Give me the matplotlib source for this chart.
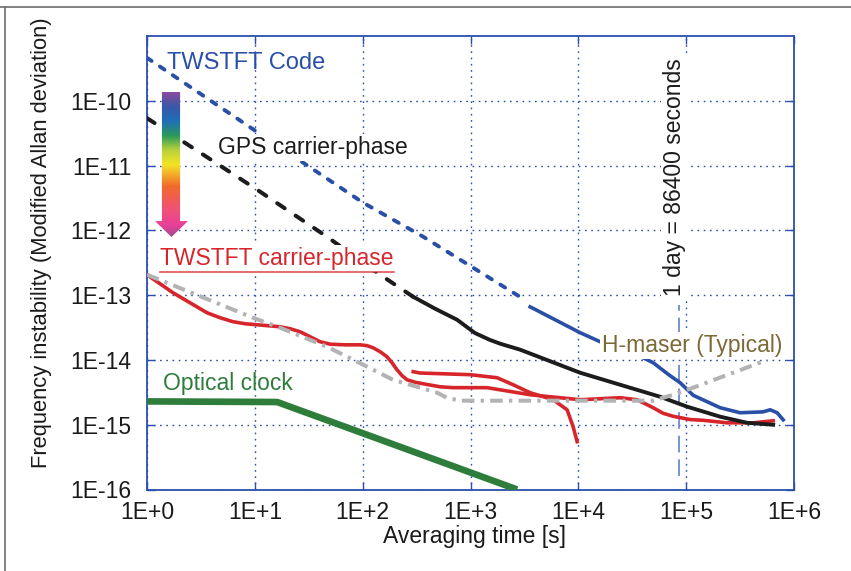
import matplotlib
matplotlib.use('Agg')
import matplotlib.pyplot as plt
import numpy as np
from matplotlib.lines import Line2D
from matplotlib.patches import Polygon
from matplotlib.colors import LinearSegmentedColormap

plt.rcParams['font.family'] = ['Liberation Sans', 'DejaVu Sans']
plt.rcParams['lines.scale_dashes'] = False

# TWSTFT Code: extrapolated (dashed) and measured (solid)
code_tau_ext = [1, 10.5, 101, 363, 2884]
code_dev_ext = [4.6e-10, 3.3e-11, 2.67e-12, 8.0e-13, 9.4e-14]
code_tau = [3573, 10400, 15930, 39900, 49400, 70000, 87900, 116000, 206500,
            316600, 517600, 601000, 698000, 794000]
code_dev = [6.6e-14, 2.63e-14, 1.91e-14, 1.08e-14, 9.06e-15, 5.8e-15, 4.45e-15,
            2.85e-15, 1.83e-15, 1.53e-15, 1.58e-15, 1.70e-15, 1.53e-15, 1.19e-15]

# GPS carrier-phase
gps_tau_ext = [1, 10.5, 46.7, 145, 294]
gps_dev_ext = [5.4e-11, 4.24e-12, 7.96e-13, 2.07e-13, 9.44e-14]
gps_tau = [294, 470, 751, 1100, 1500, 1884, 2884, 10400, 24400, 57400, 102000,
           206500, 368000, 641000]
gps_dev = [9.44e-14, 6.17e-14, 4.17e-14, 2.6e-14, 2.05e-14, 1.78e-14, 1.44e-14,
           6.34e-15, 4.14e-15, 2.70e-15, 1.90e-15, 1.33e-15, 1.07e-15, 1.0e-15]

# TWSTFT carrier-phase (long run and short run)
cp_tau = [1, 1.32, 1.74, 2.5, 3.6, 4.76, 6.28, 8.11, 10.5, 17.1, 21.2, 26.3, 32.5,
          40.3, 49.9, 68.7, 94.6, 110, 125, 145, 168, 187, 208, 232, 258, 306, 363,
          522, 690, 1426, 3573, 10400, 24400, 35100, 49400, 61200, 75700, 109000,
          143800, 240000, 419000, 641000]
cp_dev = [2.07e-13, 1.5e-13, 1.09e-13, 7.64e-14, 5.35e-14, 4.48e-14, 3.89e-14,
          3.62e-14, 3.49e-14, 3.25e-14, 3.03e-14, 2.72e-14, 2.28e-14, 1.91e-14,
          1.75e-14, 1.71e-14, 1.71e-14, 1.66e-14, 1.54e-14, 1.34e-14, 1.12e-14,
          9.06e-15, 7.06e-15, 5.71e-15, 4.94e-15, 4.53e-15, 4.29e-15, 3.85e-15,
          3.73e-15, 3.73e-15, 2.90e-15, 2.43e-15, 2.61e-15, 2.43e-15, 1.83e-15,
          1.5e-15, 1.35e-15, 1.2e-15, 1.17e-15, 1.07e-15, 1.07e-15, 1.15e-15]
cp2_tau = [294, 341, 991, 1766, 2485, 3573, 5840, 7870, 8950, 9750]
cp2_dev = [6.58e-15, 6.28e-15, 5.92e-15, 5.31e-15, 4.14e-15, 3.12e-15, 2.43e-15,
           1.70e-15, 9.3e-16, 5.47e-16]

# H-maser (typical)
hm_tau = [1, 9.62, 17.1, 46.7, 101, 191, 341, 490, 607, 801, 49400, 75700, 116000, 564000]
hm_dev = [2.07e-13, 4.48e-14, 3.14e-14, 1.60e-14, 8.43e-15, 4.94e-15, 3.73e-15,
          3.12e-15, 2.6e-15, 2.35e-15, 2.35e-15, 2.9e-15, 3.73e-15, 1.0e-14]

# Optical clock
oc_tau = [1, 16.1, 2706]
oc_dev = [2.29e-15, 2.24e-15, 1.0e-16]

one_day = 86400

xticks = [1, 10, 1e2, 1e3, 1e4, 1e5, 1e6]
xticklabels = ['1E+0', '1E+1', '1E+2', '1E+3', '1E+4', '1E+5', '1E+6']
yticks = [1e-16, 1e-15, 1e-14, 1e-13, 1e-12, 1e-11, 1e-10]
yticklabels = ['1E-16', '1E-15', '1E-14', '1E-13', '1E-12', '1E-11', '1E-10']

c_blue = '#2a4fa6'
c_black = '#1c1c1c'
c_red = '#d7262b'
c_grey = '#b3b3b6'
c_green = '#2f7d3b'
c_olive = '#7b6a36'
c_axis = '#2b4fae'

W, H = 851, 571
fig = plt.figure(figsize=(W / 100, H / 100), dpi=100)
ax = fig.add_axes([147 / W, 1 - 489.5 / H, (794 - 147) / W, (489.5 - 36) / H])
ax.set_xscale('log')
ax.set_yscale('log')
ax.set_xlim(1, 1e6)
ax.set_ylim(1e-16, 1e-9)

# optical clock
ax.plot(oc_tau, oc_dev, color=c_green, lw=4.8, solid_capstyle='butt', zorder=3)

# TWSTFT carrier-phase
ax.plot(cp_tau, cp_dev, color=c_red, lw=2.6, solid_joinstyle='round', zorder=3)
ax.plot(cp2_tau, cp2_dev, color=c_red, lw=2.6, solid_joinstyle='round', zorder=3)

# GPS
ax.plot(gps_tau_ext, gps_dev_ext, color=c_black, lw=2.9, dashes=(6.5, 9.5),
        dash_capstyle='round', zorder=3)
ax.plot(gps_tau, gps_dev, color=c_black, lw=2.8, solid_joinstyle='round', zorder=3)

# TWSTFT code
ax.plot(code_tau_ext, code_dev_ext, color=c_blue, lw=2.8, dashes=(4.0, 7.2),
        dash_capstyle='round', zorder=3)
ax.plot(code_tau, code_dev, color=c_blue, lw=2.6, solid_joinstyle='round', zorder=3)

# H-maser
ax.plot(hm_tau, hm_dev, color=c_grey, lw=2.9, dashes=(9, 4.5, 2.4, 4.5), zorder=4)

# 1 day line
ax.plot([one_day, one_day], [1.6e-16, 7e-14], color='#6a8ad0', lw=1.3,
        dashes=(12, 5), zorder=2)

ax.set_xticks(xticks)
ax.set_xticklabels(xticklabels)
ax.set_yticks(yticks)
ax.set_yticklabels(yticklabels)
ax.minorticks_off()
ax.tick_params(axis='both', which='major', direction='in', length=6, width=1,
               color=c_axis, labelsize=16.5, labelcolor='#1a1a1a',
               top=True, right=True)
ax.tick_params(axis='y', pad=11)
ax.tick_params(axis='x', pad=8)
ax.grid(True, color=c_axis, lw=1.0, dashes=(1.2, 3.3))
for s in ax.spines.values():
    s.set_color(c_axis)
    s.set_linewidth(1.3)

fig.text(474 / W, 1 - 536 / H, 'Averaging time [s]', fontsize=16.5,
         ha='center', va='center', color='#1a1a1a')
fig.text(42 / W, 1 - 243 / H, 'Frequency instability (Modified Allan deviation)',
         fontsize=15.8, rotation=90, ha='center', va='center', color='#1a1a1a')

box = dict(facecolor='white', edgecolor='none', pad=1.5)
ax.text(1.53, 3.86e-10, 'TWSTFT Code', color=c_blue, fontsize=17, va='center',
        ha='left', zorder=5)
ax.text(4.56, 1.88e-11, 'GPS carrier-phase', color=c_black, fontsize=16.5,
        va='center', ha='left', bbox=box, zorder=5)
cp_txt = ax.text(1.32, 3.65e-13, 'TWSTFT carrier-phase', color=c_red, fontsize=16.5,
                 va='center', ha='left', bbox=box, zorder=5)
ax.text(1.41, 4.3e-15, 'Optical clock', color=c_green, fontsize=16.5,
        va='center', ha='left', zorder=5)
ax.text(16630, 1.66e-14, 'H-maser (Typical)', color=c_olive, fontsize=16.5,
        va='center', ha='left', bbox=box, zorder=5)
ax.text(77400, 6.7e-12, '1 day = 86400 seconds', color=c_black, fontsize=16.5,
        rotation=90, va='center', ha='center', bbox=box, zorder=5)

# underline of the carrier-phase label
fig.canvas.draw()
bb = cp_txt.get_window_extent()
fig.add_artist(Line2D([bb.x0 / W, bb.x1 / W], [(1 - 271.5 / H)] * 2,
                      color=c_red, lw=1.2, alpha=0.8))

# rainbow arrow (improvement direction)
arr_ax = fig.add_axes([155 / W, 1 - 237 / H, 33 / W, 145 / H])
arr_ax.set_axis_off()
rainbow = LinearSegmentedColormap.from_list('rb', [
    (0.0, '#a04a8f'), (0.08, '#e8409a'), (0.18, '#f0507a'), (0.35, '#f26a2c'),
    (0.5, '#f4e424'), (0.6, '#b8d23a'), (0.7, '#2a9a5a'), (0.8, '#1e6fb8'),
    (0.9, '#3a58a8'), (1.0, '#8a4a9a')])
grad = np.linspace(0, 1, 256).reshape(-1, 1)
im = arr_ax.imshow(grad, cmap=rainbow, extent=[0, 1, 0, 1], origin='lower',
                   aspect='auto')
arrow_shape = Polygon([(0.21, 1), (0.76, 1), (0.76, 0.11), (1.0, 0.11), (0.5, 0.0),
                       (0.0, 0.11), (0.21, 0.11)], closed=True,
                      transform=arr_ax.transAxes, facecolor='none', edgecolor='none')
arr_ax.add_patch(arrow_shape)
im.set_clip_path(arrow_shape)
arr_ax.set_xlim(0, 1)
arr_ax.set_ylim(0, 1)

# outer frame (top and left edges)
fig.add_artist(Line2D([0, 1], [1 - 6.5 / H] * 2, color='#777777', lw=1.3))
fig.add_artist(Line2D([4.5 / W] * 2, [0, 1 - 6.5 / H], color='#777777', lw=1.3))

fig.savefig('out.png', dpi=100)
